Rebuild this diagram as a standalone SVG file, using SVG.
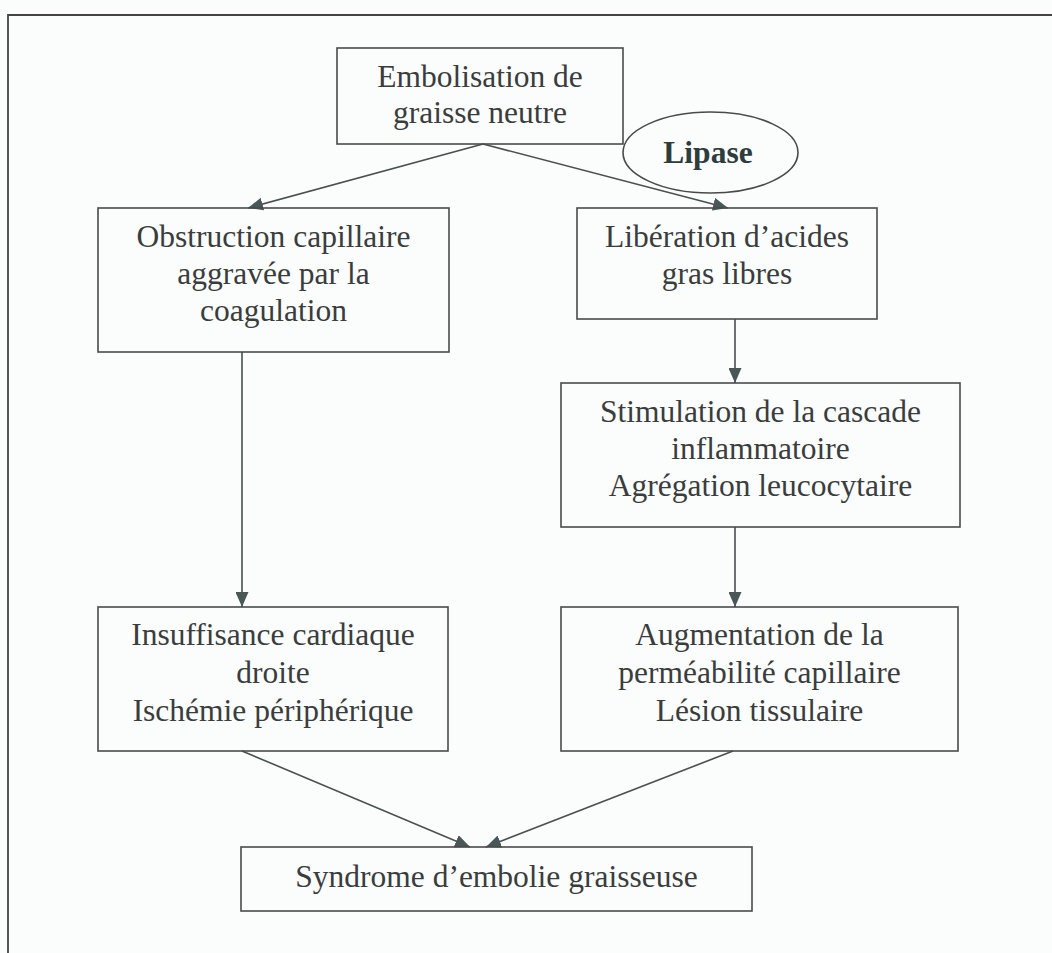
<svg xmlns="http://www.w3.org/2000/svg" width="1052" height="953" viewBox="0 0 1052 953">
<style>
.box{fill:none;stroke:#4a4a4a;stroke-width:1.6}
.t{font-family:"Liberation Serif","Times New Roman",serif;font-size:31.5px;fill:#3a3d3d;text-anchor:middle}
.b{font-weight:bold;fill:#2f3c3c}
.c{stroke:#4a4f4f;stroke-width:1.6;fill:none;marker-end:url(#ah)}
.frame{stroke:#444;stroke-width:1.8;fill:none}
</style>
<defs>
<marker id="ah" markerUnits="userSpaceOnUse" markerWidth="15" markerHeight="13" refX="15" refY="6.5" orient="auto">
<path d="M0,0 L15,6.5 L0,13 z" fill="#4a5757"/>
</marker>
</defs>
<rect width="1052" height="953" fill="#fbfcfc"/>
<path class="frame" d="M8,953 L8,15 L1052,15"/>
<g id="connectors">
<line class="c" x1="483" y1="144" x2="248" y2="208"/>
<line class="c" x1="483" y1="144" x2="728" y2="208"/>
<line class="c" x1="242" y1="352" x2="242" y2="607"/>
<line class="c" x1="735" y1="319" x2="735" y2="383"/>
<line class="c" x1="735" y1="527" x2="735" y2="607"/>
<line class="c" x1="242" y1="751" x2="470" y2="847"/>
<line class="c" x1="733" y1="751" x2="486" y2="847"/>
</g>
<g id="n1">
<rect class="box" x="337" y="48" width="286" height="96"/>
<text class="t" x="480" y="87">Embolisation de</text>
<text class="t" x="480" y="123">graisse neutre</text>
</g>
<g id="lipase">
<ellipse class="box" cx="710.5" cy="152.5" rx="87.5" ry="40.5"/>
<text class="t b" x="708" y="163">Lipase</text>
</g>
<g id="n2">
<rect class="box" x="98" y="208" width="351" height="144"/>
<text class="t" x="273.5" y="247">Obstruction capillaire</text>
<text class="t" x="273.5" y="284">aggravée par la</text>
<text class="t" x="273.5" y="321">coagulation</text>
</g>
<g id="n3">
<rect class="box" x="577" y="208" width="300" height="111"/>
<text class="t" x="727" y="247">Libération d’acides</text>
<text class="t" x="727" y="284">gras libres</text>
</g>
<g id="n4">
<rect class="box" x="561" y="383" width="399" height="144"/>
<text class="t" x="760.5" y="422">Stimulation de la cascade</text>
<text class="t" x="760.5" y="459">inflammatoire</text>
<text class="t" x="760.5" y="496">Agrégation leucocytaire</text>
</g>
<g id="n5">
<rect class="box" x="98" y="607" width="350" height="144"/>
<text class="t" x="273" y="645">Insuffisance cardiaque</text>
<text class="t" x="273" y="683">droite</text>
<text class="t" x="273" y="721">Ischémie périphérique</text>
</g>
<g id="n6">
<rect class="box" x="561" y="607" width="397" height="144"/>
<text class="t" x="759.5" y="645">Augmentation de la</text>
<text class="t" x="759.5" y="683">perméabilité capillaire</text>
<text class="t" x="759.5" y="721">Lésion tissulaire</text>
</g>
<g id="n7">
<rect class="box" x="241" y="847" width="511" height="64"/>
<text class="t" x="496.5" y="887">Syndrome d’embolie graisseuse</text>
</g>
</svg>
